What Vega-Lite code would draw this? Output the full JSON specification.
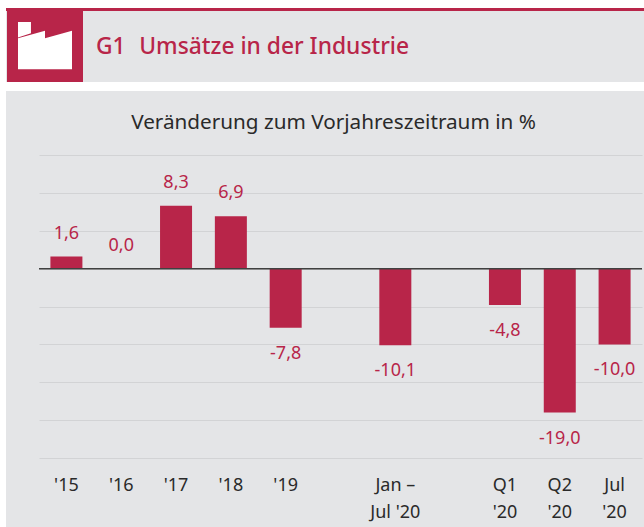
{"$schema":"https://vega.github.io/schema/vega-lite/v6.json","width":603,"height":303,"autosize":"none","padding":{"left":39,"top":155,"right":2,"bottom":69},"background":"#e4e5e7","title":{"text":"G1\u2002\u200aUmsätze in der Industrie","anchor":"start","frame":"group","dx":57,"offset":-58.5,"font":"Noto Sans","fontSize":22.8,"fontWeight":500,"color":"#b82549"},"config":{"view":{"stroke":null},"locale":{"number":{"decimal":",","thousands":".","grouping":[3],"currency":["","€"],"minus":"-"}}},"data":{"values":[{"period":"'15","value":1.6},{"period":"'16","value":0.0},{"period":"'17","value":8.3},{"period":"'18","value":6.9},{"period":"'19","value":-7.8},{"period":"Jan –|Jul '20","value":-10.1},{"period":"Q1|'20","value":-4.8},{"period":"Q2|'20","value":-19.0},{"period":"Jul|'20","value":-10.0}]},"encoding":{"x":{"field":"period","type":"nominal","sort":null,"scale":{"domain":["'15","'16","'17","'18","'19"," ","Jan –|Jul '20","  ","Q1|'20","Q2|'20","Jul|'20"],"paddingInner":0,"paddingOuter":0},"axis":{"title":null,"labelAngle":0,"domain":false,"ticks":false,"grid":false,"labelPadding":18,"labelFont":"Noto Sans","labelFontSize":18,"labelColor":"#2a2a2a","labelLineHeight":27,"labelExpr":"split(datum.value,'|')"}},"y":{"field":"value","type":"quantitative","scale":{"domain":[-25,15],"nice":false},"axis":{"title":null,"labels":false,"domain":false,"ticks":false,"grid":true,"gridColor":"#d2d3d5","gridWidth":1,"values":[-25,-20,-15,-10,-5,0,5,10,15]}}},"layer":[{"data":{"values":[{}]},"mark":{"type":"rect","x":-39,"x2":605,"y":-155,"y2":-147,"fill":"#ffffff"},"encoding":{"x":{},"y":{}}},{"data":{"values":[{}]},"mark":{"type":"rect","x":-39,"x2":605,"y":-73,"y2":-64,"fill":"#ffffff"},"encoding":{"x":{},"y":{}}},{"data":{"values":[{}]},"mark":{"type":"rect","x":-39,"x2":-33,"y":-155,"y2":372,"fill":"#ffffff"},"encoding":{"x":{},"y":{}}},{"data":{"values":[{}]},"mark":{"type":"rect","x":-33,"x2":605,"y":-147,"y2":-144,"fill":"#b82549"},"encoding":{"x":{},"y":{}}},{"data":{"values":[{}]},"mark":{"type":"rect","x":-32,"x2":44,"y":-147,"y2":-73,"fill":"#b82549"},"encoding":{"x":{},"y":{}}},{"data":{"values":[{}]},"mark":{"type":"point","x":6,"y":-109.5,"size":2916,"filled":true,"fill":"#ffffff","opacity":1,"strokeWidth":0,"shape":"M-1,-0.87 L-0.52,-0.87 L-0.52,-0.45 L-1,-0.3 Z M-1,-0.27 L0,-0.55 L0,-0.27 L1,-0.55 L1,0.88 L-1,0.88 Z"},"encoding":{"x":{},"y":{}}},{"data":{"values":[{}]},"mark":{"type":"text","x":294.5,"y":-32,"text":"Veränderung zum Vorjahreszeitraum in %","font":"Noto Sans","fontSize":20.7,"color":"#2a2a2a","align":"center","baseline":"middle"},"encoding":{"x":{},"y":{}}},{"mark":{"type":"bar","size":32,"color":"#b82549"}},{"data":{"values":[{"value":0}]},"mark":{"type":"rule","color":"#404040","strokeWidth":1.5},"encoding":{"x":{"value":0},"x2":{"value":603}}},{"transform":[{"filter":"datum.value>=0"}],"mark":{"type":"text","font":"Noto Sans","fontSize":18,"color":"#b82549","baseline":"middle","dy":-23},"encoding":{"text":{"field":"value","type":"quantitative","format":".1f"}}},{"transform":[{"filter":"datum.value<0"}],"mark":{"type":"text","font":"Noto Sans","fontSize":18,"color":"#b82549","baseline":"middle","dy":26},"encoding":{"text":{"field":"value","type":"quantitative","format":".1f"}}}]}
